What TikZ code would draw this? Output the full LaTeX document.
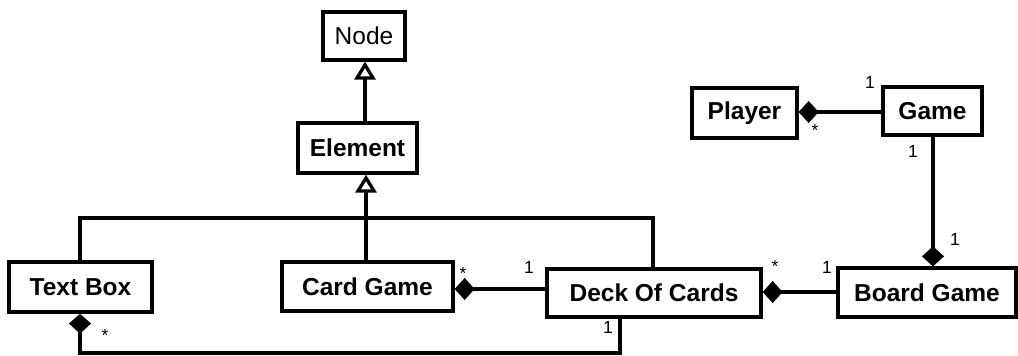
\documentclass[tikz,border=0pt]{standalone}
\usepackage{fontspec}
\setmainfont{Liberation Sans}
\usetikzlibrary{arrows.meta}
\tikzset{
  cls/.style={draw, line width=3.3pt, inner sep=0pt, font=\fontsize{24.5}{28}\selectfont\bfseries},
  plaincls/.style={cls, font=\fontsize{24.5}{28}\selectfont},
  link/.style={line width=3.3pt},
  gen/.style={link, -{Triangle[open, length=18pt, width=21pt]}},
  comp/.style={link, -{Diamond[length=20pt, width=22pt]}},
  mult/.style={inner sep=0pt, anchor=base, font=\fontsize{17.5}{19}\selectfont},
}
\begin{document}
\begin{tikzpicture}[x=1pt, y=-1pt]
\useasboundingbox (0,0) rectangle (1018,356);

% classes
\node[plaincls, minimum width=82pt,  minimum height=48pt] (node)    at (364,36)     {Node};
\node[cls,      minimum width=119pt, minimum height=50pt] (element) at (357.5,148)  {Element};
\node[cls,      minimum width=143pt, minimum height=50pt] (textbox) at (80.5,287)   {Text Box};
\node[cls,      minimum width=171pt, minimum height=49pt] (card)    at (367.5,286.5){Card Game};
\node[cls,      minimum width=214pt, minimum height=48pt] (deck)    at (654,293)    {Deck Of Cards};
\node[cls,      minimum width=178pt, minimum height=49pt] (board)   at (927,292.5)  {Board Game};
\node[cls,      minimum width=105pt, minimum height=50pt] (player)  at (744.5,113)  {Player};
\node[cls,      minimum width=99pt,  minimum height=48pt] (game)    at (932.5,111)  {Game};

% routing guides
\coordinate (gx)   at (365,0);
\coordinate (tx)   at (366,0);
\coordinate (bar)  at (366,218);
\coordinate (dx)   at (653,0);
\coordinate (cy)   at (0,289);
\coordinate (dy)   at (0,292);
\coordinate (py)   at (0,112);
\coordinate (bx)   at (933,0);
\coordinate (ux)   at (620,0);
\coordinate (low)  at (80,353);

% generalisation
\draw[gen] (element.north -| gx) -- (node.south -| gx);
\draw[gen] (card.north -| tx) -- (element.south -| tx);
\draw[link] (textbox.north -| low) |- (bar) -| (deck.north -| dx);

% composition
\draw[comp] (deck.west |- cy) -- (card.east |- cy);
\draw[comp] (board.west |- dy) -- (deck.east |- dy);
\draw[comp] (game.west |- py) -- (player.east |- py);
\draw[comp] (game.south -| bx) -- (board.north -| bx);
\draw[comp] (deck.south -| ux) |- (low) -- (textbox.south -| low);

% multiplicities
\node[mult] (m1)  at (105,341) {*};
\node[mult] (m2)  at (608,333) {1};
\node[mult] (m3)  at (463,279) {*};
\node[mult] (m4)  at (529,273) {1};
\node[mult] (m5)  at (775,272) {*};
\node[mult] (m6)  at (827,273) {1};
\node[mult] (m7)  at (815,136) {*};
\node[mult] (m8)  at (870,88)  {1};
\node[mult] (m9)  at (913,157) {1};
\node[mult] (m10) at (955,245) {1};
\end{tikzpicture}
\end{document}
